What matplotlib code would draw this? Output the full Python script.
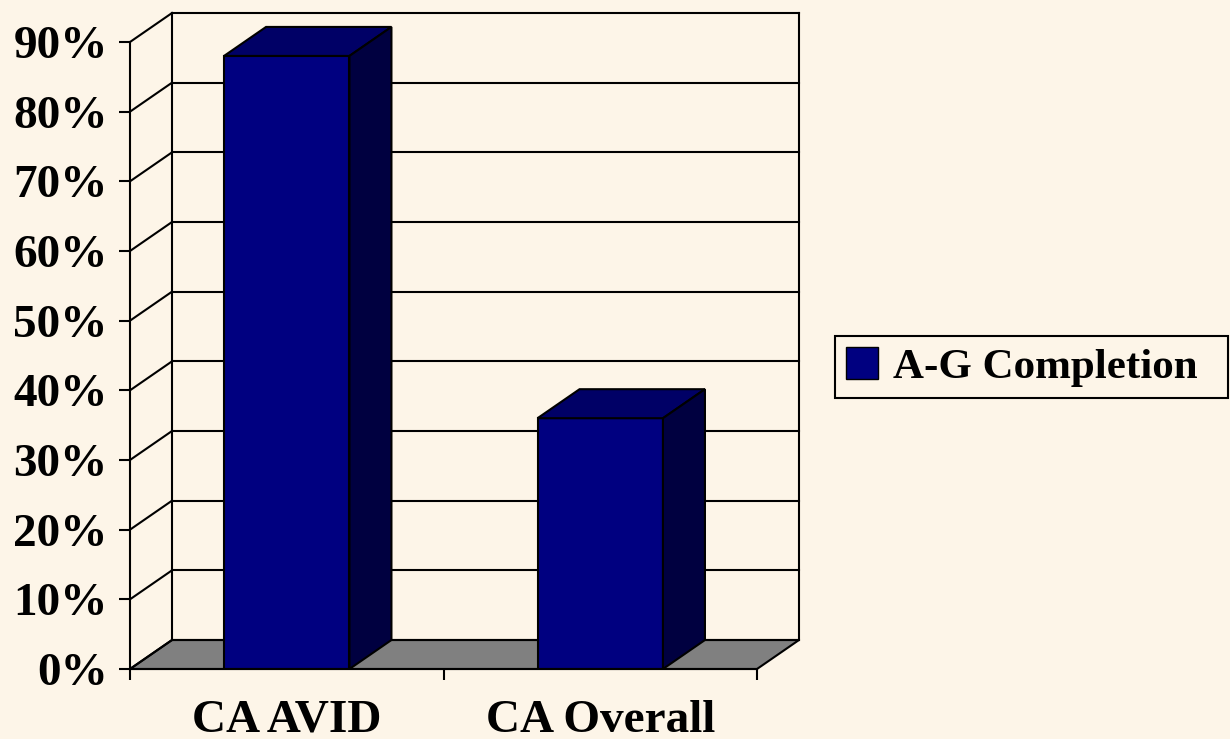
import matplotlib
matplotlib.use("Agg")
import matplotlib.pyplot as plt
from matplotlib.patches import Polygon, Patch

categories = ["CA AVID", "CA Overall"]
values = [88, 36]
series_name = "A-G Completion"
yticks = list(range(0, 91, 10))
ytick_labels = [f"{v}%" for v in yticks]

BG = "#FDF5E8"
FRONT = "#000080"
TOP = "#000066"
SIDE = "#000040"
FLOOR = "#808080"
FONT = ["Liberation Serif", "DejaVu Serif"]

plt.rcParams["font.family"] = FONT
plt.rcParams["font.weight"] = "bold"

fig = plt.figure(figsize=(12.3, 7.39), dpi=100, facecolor=BG)
ax = fig.add_axes([130/1230, 70/739, 627/1230, 627/739])
ax.set_facecolor("none")
ax.set_xlim(0, len(categories))
ax.set_ylim(0, 90)

# depth offsets (data units)
dx = 42 / 313.5
dy = 29 / (627/90)
n = len(categories)

# floor
ax.add_patch(Polygon([(0, 0), (n, 0), (n + dx, dy), (dx, dy)], closed=True,
                     facecolor=FLOOR, edgecolor="black", lw=1.5, zorder=1, clip_on=False))
# back wall and side wall gridlines
for v in yticks:
    ax.plot([dx, n + dx], [v + dy, v + dy], color="black", lw=1.5, zorder=1.5, clip_on=False)
    ax.plot([0, dx], [v, v + dy], color="black", lw=1.5, zorder=1.5, clip_on=False)
ax.plot([dx, dx], [dy, 90 + dy], color="black", lw=1.5, zorder=1.5, clip_on=False)
ax.plot([n + dx, n + dx], [dy, 90 + dy], color="black", lw=1.5, zorder=1.5, clip_on=False)

# bars
w = 0.4
xs = [i + 0.5 for i in range(n)]
ax.bar(xs, values, width=w, color=FRONT, edgecolor="black", lw=1.5, zorder=3)
for x, v in zip(xs, values):
    l, r = x - w/2, x + w/2
    ax.add_patch(Polygon([(l, v), (r, v), (r + dx, v + dy), (l + dx, v + dy)], closed=True,
                         facecolor=TOP, edgecolor="black", lw=1.5, zorder=3, clip_on=False))
    ax.add_patch(Polygon([(r, 0), (r + dx, dy), (r + dx, v + dy), (r, v)], closed=True,
                         facecolor=SIDE, edgecolor="black", lw=1.5, zorder=3, clip_on=False))

# axes styling
for s in ["top", "right"]:
    ax.spines[s].set_visible(False)
for s in ["left", "bottom"]:
    ax.spines[s].set_linewidth(1.5)
    ax.spines[s].set_zorder(4)
ax.set_yticks(yticks)
ax.set_yticklabels(ytick_labels, fontsize=34, fontweight="bold")
ax.tick_params(axis="y", length=8, width=1.5, pad=8)
ax.set_xticks(range(n + 1))
ax.set_xticklabels([""] * (n + 1))
ax.tick_params(axis="x", which="major", length=8, width=1.5)
ax.set_xticks(xs, minor=True)
ax.set_xticklabels(categories, minor=True, fontsize=34, fontweight="bold")
ax.tick_params(axis="x", which="minor", length=0, pad=22)

# legend
leg = fig.legend(handles=[Patch(facecolor=FRONT, edgecolor="black", label=series_name)],
                 loc="center", bbox_to_anchor=(835/1230, 1 - 398/739, 393/1230, 62/739),
                 mode="expand",
                 prop={"family": FONT, "weight": "bold", "size": 31},
                 frameon=True, fancybox=False, edgecolor="black", facecolor=BG,
                 framealpha=1, handlelength=0.75, handleheight=0.75, handletextpad=0.35,
                 borderpad=0.25, borderaxespad=0)
leg.get_frame().set_linewidth(1.5)

fig.savefig("out.png", dpi=100, facecolor=BG)
